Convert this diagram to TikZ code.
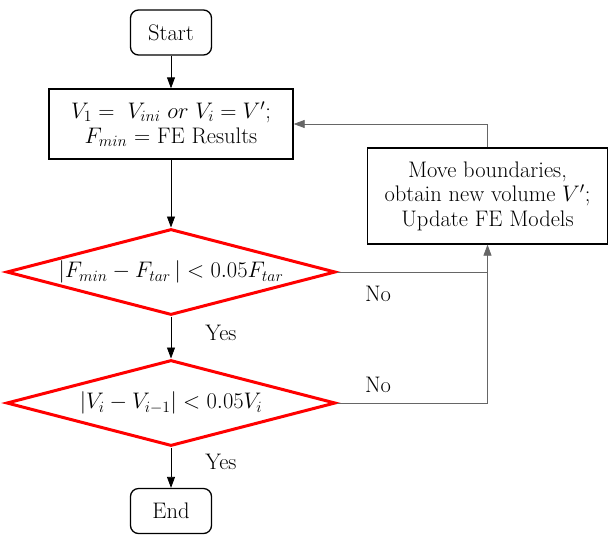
\RequirePackage{fix-cm}
\documentclass[tikz,border=0pt]{standalone}
\usetikzlibrary{shapes.geometric,arrows.meta}

\begin{document}
\begin{tikzpicture}[x=1pt,y=-1pt,
	every node/.style={font=\fontsize{22.5}{24.5}\selectfont},
	term/.style={draw,line width=1.3pt,rounded corners=8pt,minimum width=81pt,minimum height=45pt,inner sep=0pt},
	proc/.style={draw,line width=1.3pt,align=center,inner sep=0pt},
	decide/.style={draw=red,line width=3pt,diamond,aspect=3.8,inner sep=0pt,minimum width=329pt,minimum height=86pt},
	arr/.style={-{Triangle[width=8pt,length=11pt]},line width=0.8pt},
	back/.style={line width=0.8pt,draw=black!60}]
	\useasboundingbox (0,0) rectangle (609,536);

	%nodes
	\node[term] (start) at (171,32.5) {Start};
	\node[proc,minimum width=244pt,minimum height=70pt] (init) at (171,124)
		{$V_1 =\ V_{ini}\ or\ V_i = V'$;\\ $F_{min}$ = FE Results};
	\node[proc,minimum width=240pt,minimum height=96pt] (update) at (487.5,196)
		{Move boundaries,\\ obtain new volume $V'$;\\ Update FE Models};
	\node[decide] (dec1) at (171,272) {$|F_{min} - F_{tar}\,| < 0.05F_{tar}$};
	\node[decide] (dec2) at (171,403) {$|V_i - V_{i-1}| < 0.05V_i$};
	\node[term] (end) at (171,511) {End};

	%labels
	\node (no1) at (378,294) {No};
	\node (no2) at (378,385) {No};
	\node (yes1) at (221,333) {Yes};
	\node (yes2) at (221,462) {Yes};

	%arrows
	\draw[arr] (start) -- (init);
	\draw[arr] (init) -- (dec1);
	\draw[arr] (dec1) -- (dec2);
	\draw[arr] (dec2) -- (end);

	%loop back
	\coordinate (join) at (dec1.east -| update.south);
	\draw[arr,back] (dec1.east) -| (update.south);
	\draw[back] (dec2.east) -| (join);
	\draw[arr,back] (update.north) |- (init.east);
\end{tikzpicture}
\end{document}
